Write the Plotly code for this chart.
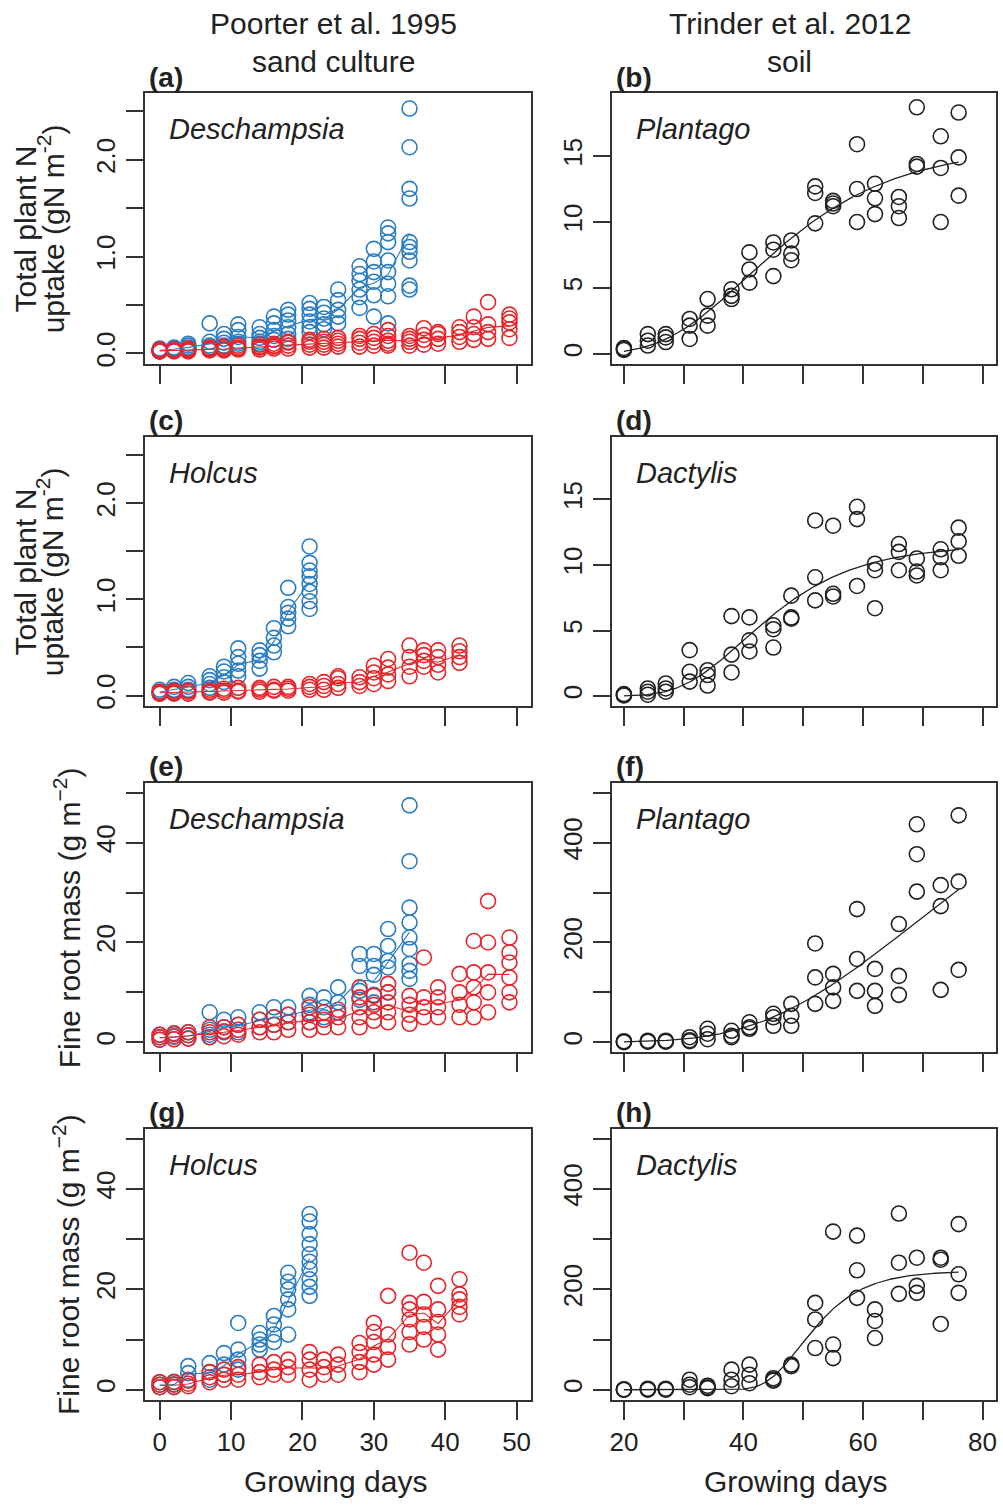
import numpy as np
import plotly.graph_objects as go

W, H = 1003, 1507
FONT = "Liberation Sans, Arial, Helvetica, sans-serif"
INK = "#222222"
FRAME = "#333333"
BLUE = "#2A7DC2"
RED = "#E5262B"

# ---- harvest days ----
SAND_DAYS = [0, 2, 4, 7, 9, 11, 14, 16, 18, 21, 23, 25, 28, 30, 32, 35, 37, 39, 42, 44, 46, 49]
SOIL_DAYS = [20, 24, 27, 31, 34, 38, 41, 45, 48, 52, 55, 59, 62, 66, 69, 73, 76]

# ---- Poorter et al. 1995, sand culture: total plant N uptake (gN m-2) ----
desch_n_high = [
    [0.02, 0.03, 0.04, 0.05, 0.03], [0.03, 0.04, 0.05, 0.06, 0.04], [0.04, 0.06, 0.08, 0.10, 0.05],
    [0.31, 0.12, 0.08, 0.06, 0.05], [0.20, 0.15, 0.11, 0.08, 0.07], [0.30, 0.24, 0.17, 0.12, 0.10],
    [0.27, 0.20, 0.16, 0.12, 0.10], [0.38, 0.31, 0.24, 0.18, 0.14], [0.45, 0.40, 0.34, 0.27, 0.20, 0.15],
    [0.52, 0.46, 0.40, 0.33, 0.27, 0.22], [0.48, 0.42, 0.36, 0.30, 0.25], [0.66, 0.55, 0.45, 0.38, 0.31],
    [0.90, 0.82, 0.75, 0.66, 0.58, 0.47], [1.08, 0.95, 0.84, 0.74, 0.60, 0.38],
    [1.30, 1.24, 1.15, 0.96, 0.84, 0.72, 0.59, 0.31],
    [2.53, 2.13, 1.70, 1.60, 1.15, 1.10, 1.05, 0.96, 0.70, 0.66],
]
desch_n_low = [
    [0.02, 0.03, 0.04, 0.02], [0.02, 0.03, 0.04, 0.03], [0.02, 0.03, 0.05, 0.04], [0.03, 0.04, 0.06, 0.05],
    [0.03, 0.05, 0.07, 0.04], [0.04, 0.05, 0.08, 0.06], [0.04, 0.06, 0.09, 0.07], [0.05, 0.07, 0.10, 0.08],
    [0.05, 0.08, 0.11, 0.12], [0.06, 0.09, 0.12, 0.14], [0.06, 0.09, 0.12, 0.15], [0.07, 0.10, 0.13, 0.16],
    [0.07, 0.11, 0.15, 0.18], [0.08, 0.12, 0.16, 0.20], [0.08, 0.13, 0.18, 0.24, 0.10], [0.08, 0.12, 0.15, 0.18],
    [0.09, 0.14, 0.19, 0.26], [0.10, 0.15, 0.20, 0.22], [0.12, 0.17, 0.22, 0.27], [0.14, 0.20, 0.27, 0.38],
    [0.15, 0.22, 0.30, 0.53], [0.16, 0.25, 0.32, 0.40, 0.36],
]
holcus_n_high = [
    [0.02, 0.04, 0.06], [0.04, 0.06, 0.09], [0.06, 0.09, 0.13], [0.08, 0.12, 0.16, 0.20],
    [0.14, 0.19, 0.25, 0.30], [0.20, 0.26, 0.33, 0.40, 0.49], [0.28, 0.36, 0.42, 0.47],
    [0.45, 0.52, 0.60, 0.70], [0.72, 0.80, 0.86, 0.92, 1.12],
    [0.90, 0.98, 1.08, 1.16, 1.24, 1.30, 1.38, 1.55],
]
holcus_n_low = [
    [0.02, 0.03, 0.04], [0.02, 0.03, 0.05], [0.02, 0.04, 0.05], [0.03, 0.04, 0.06], [0.03, 0.05, 0.07],
    [0.04, 0.05, 0.08], [0.04, 0.06, 0.08], [0.05, 0.06, 0.09], [0.05, 0.07, 0.09], [0.06, 0.09, 0.12],
    [0.06, 0.10, 0.14], [0.08, 0.12, 0.18, 0.20], [0.10, 0.14, 0.19], [0.12, 0.18, 0.24, 0.31],
    [0.15, 0.22, 0.29, 0.38], [0.20, 0.30, 0.40, 0.52], [0.30, 0.36, 0.42, 0.47], [0.24, 0.32, 0.40, 0.47],
    [0.34, 0.40, 0.46, 0.52],
]

# ---- Poorter et al. 1995, sand culture: fine root mass (g m-2) ----
desch_root_high = [
    [0.5, 1.0, 1.5], [0.6, 1.1, 1.6], [0.8, 1.4, 2.0], [6.0, 2.5, 1.5, 1.0], [4.5, 3.0, 2.0],
    [5.0, 3.5, 2.0], [6.0, 4.5, 3.0], [7.0, 5.0, 3.5], [7.0, 5.5, 4.0], [9.3, 7.5, 6.0, 4.0],
    [9.0, 7.0, 5.0], [11.0, 8.0, 6.0], [17.7, 15.3, 10.3, 8.5], [17.7, 15.3, 13.5, 9.5, 8.0],
    [22.7, 19.3, 16.3, 15.0, 10.0], [47.5, 36.3, 27.0, 24.0, 21.0, 18.7, 15.7, 14.3, 12.7],
]
desch_root_low = [
    [0.5, 1.0, 1.5], [0.6, 1.2, 1.8], [0.7, 1.4, 2.0], [1.0, 2.0, 3.0], [1.2, 2.2, 3.0],
    [1.5, 2.5, 3.5], [2.0, 3.0, 4.5], [2.0, 3.5, 5.0], [2.5, 4.0, 5.5], [2.5, 4.0, 5.5, 7.0],
    [3.0, 4.5, 6.0], [3.0, 5.0, 6.5], [3.0, 5.0, 7.0, 9.0, 11.0], [4.3, 6.0, 7.5, 9.3],
    [4.0, 6.0, 8.0, 10.0, 11.7], [3.7, 5.5, 7.5, 9.3], [5.0, 7.0, 9.0, 17.0], [5.0, 7.0, 9.0, 11.0],
    [5.0, 7.5, 10.0, 13.7], [5.0, 8.0, 11.0, 14.0, 20.3], [6.0, 10.0, 14.0, 20.0, 28.3],
    [8.0, 10.0, 13.0, 16.0, 18.0, 21.0],
]
holcus_root_high = [
    [0.5, 1.0, 1.5], [0.6, 1.1, 1.6], [2.0, 3.3, 4.7], [2.0, 3.5, 5.3], [3.0, 5.0, 7.3],
    [4.0, 6.0, 8.0, 13.3], [8.0, 9.0, 10.0, 11.3], [9.5, 11.0, 13.0, 14.7],
    [11.0, 16.0, 18.0, 20.0, 21.5, 23.3],
    [18.7, 20.5, 22.0, 24.0, 25.5, 27.0, 29.0, 31.0, 33.5, 35.0],
]
holcus_root_low = [
    [0.5, 1.0, 1.5], [0.5, 1.0, 1.5], [0.7, 1.2, 1.8], [1.5, 2.5, 3.5], [2.0, 3.0, 4.0],
    [2.0, 3.0, 4.5], [2.5, 3.5, 5.0], [3.0, 4.0, 5.5], [3.0, 4.5, 6.0], [2.0, 4.0, 6.0, 7.5],
    [3.0, 4.5, 6.0], [3.0, 5.0, 7.0], [3.5, 5.5, 7.5, 9.3], [5.0, 7.0, 9.5, 11.5, 13.3],
    [6.0, 8.5, 11.0, 18.7], [9.0, 11.5, 14.0, 16.0, 17.3, 27.3], [10.0, 12.5, 15.0, 17.5, 25.3],
    [8.0, 11.0, 13.5, 16.0, 20.7], [15.0, 16.5, 18.0, 19.0, 22.0],
]

# ---- Trinder et al. 2012, soil ----
plantago_n = [
    [0.30, 0.45, 0.35], [1.50, 1.00, 0.63], [1.50, 1.25, 0.90], [2.65, 2.14, 1.13], [4.16, 2.90, 2.14],
    [4.90, 4.40, 4.16], [7.70, 6.40, 5.40], [8.45, 7.90, 5.90], [8.60, 7.60, 7.10], [12.7, 12.2, 9.9],
    [11.6, 11.2, 11.4], [15.9, 12.5, 10.0], [12.9, 11.8, 10.6], [11.9, 11.2, 10.3], [18.7, 14.4, 14.2],
    [16.5, 14.1, 10.0], [18.3, 14.9, 12.0],
]
dactylis_n = [
    [0.08, 0.15, 0.05], [0.58, 0.33, 0.10], [0.96, 0.58, 0.33], [3.50, 1.85, 1.10], [1.97, 1.60, 0.80],
    [6.10, 3.16, 1.80], [6.00, 4.25, 3.40], [5.40, 5.10, 3.70], [7.66, 6.00, 5.90], [13.4, 9.06, 7.3],
    [13.0, 7.8, 7.6], [14.44, 13.5, 8.4], [10.1, 9.6, 6.7], [11.6, 11.0, 9.6], [10.5, 9.5, 9.2],
    [11.2, 10.6, 9.6], [12.85, 11.8, 10.7],
]
plantago_root = [
    [2, 0, 1], [3, 1, 2], [2, 3, 1], [10, 4, 2], [27, 17, 6], [23, 13, 10], [40, 27, 30],
    [57, 50, 33], [77, 53, 33], [198, 130, 77], [137, 110, 83], [267, 167, 103], [147, 103, 73],
    [237, 133, 95], [437, 377, 302], [315, 273, 105], [455, 322, 145],
]
dactylis_root = [
    [0, 1, 0], [0, 2, 1], [1, 0, 2], [20, 10, 5], [8, 3, 5], [40, 20, 7], [50, 30, 13],
    [23, 20, 18], [50, 47], [173, 140, 83], [315, 90, 63], [307, 238, 183], [160, 137, 103],
    [351, 253, 191], [263, 207, 193], [263, 259, 131], [330, 230, 193],
]

# ---- tick labels ----
SAND_XTICKS = [0, 10, 20, 30, 40, 50]
SOIL_XTICKS = [20, 30, 40, 50, 60, 70, 80]
SOIL_XLABELS = ["20", "", "40", "", "60", "", "80"]
N_TICKS = [0, 0.5, 1.0, 1.5, 2.0, 2.5]
N_LABELS = ["0.0", "", "1.0", "", "2.0", ""]
SOILN_TICKS = [0, 5, 10, 15]
ROOT_TICKS = [0, 10, 20, 30, 40, 50]
ROOT_LABELS = ["0", "", "20", "", "40", ""]
SOILROOT_TICKS = [0, 100, 200, 300, 400, 500]
SOILROOT_LABELS = ["0", "", "200", "", "400", ""]


def flatten(days, groups):
    xs, ys = [], []
    for d, g in zip(days, groups):
        xs += [d] * len(g)
        ys += list(g)
    return xs, ys


def harvest_geomeans(days, groups):
    return list(days[:len(groups)]), [float(np.exp(np.mean(np.log(g)))) for g in groups]


def gompertz_fit(days, groups):
    """Least-squares Gompertz growth curve K exp(-exp(-r (t - t0))), grid over (r, t0)."""
    x, y = flatten(days, groups)
    x = np.asarray(x, float)
    y = np.asarray(y, float)
    r = np.linspace(0.01, 0.4, 196)[:, None, None]
    t0 = np.linspace(25, 110, 341)[None, :, None]
    with np.errstate(all="ignore"):
        s = np.exp(-np.exp(np.clip(-r * (x[None, None, :] - t0), -50, 50)))
        k = (s * y).sum(axis=2) / (s * s).sum(axis=2)
        sse = ((k[..., None] * s - y) ** 2).sum(axis=2)
    sse = np.where(np.isfinite(sse), sse, np.inf)
    i, j = np.unravel_index(np.argmin(sse), sse.shape)
    rr, tt, kk = r[i, 0, 0], t0[0, j, 0], k[i, j]
    t = np.linspace(min(days), max(days), 200)
    return t, kk * np.exp(-np.exp(-rr * (t - tt)))


# panel geometry (pixels)
ROW_TOP = [93.3, 438.0, 785.0, 1131.7]
ROW_BOT = [365.0, 708.0, 1055.0, 1403.5]
COL_X = [(143.0, 530.0), (611.7, 996.7)]

fig = go.Figure()
layout = dict(
    width=W, height=H, margin=dict(l=0, r=0, t=0, b=0),
    paper_bgcolor="white", plot_bgcolor="white", showlegend=False,
    font=dict(family=FONT, color=INK),
)

panels = [
    # (row, col, yticks, ylabels, yrange, species)
    (0, 0, N_TICKS, N_LABELS, [-0.11, 2.69], "Deschampsia"),
    (0, 1, SOILN_TICKS, [str(v) for v in SOILN_TICKS], [-0.77, 19.78], "Plantago"),
    (1, 0, N_TICKS, N_LABELS, [-0.11, 2.69], "Holcus"),
    (1, 1, SOILN_TICKS, [str(v) for v in SOILN_TICKS], [-0.77, 19.78], "Dactylis"),
    (2, 0, ROOT_TICKS, ROOT_LABELS, [-2, 52], "Deschampsia"),
    (2, 1, SOILROOT_TICKS, SOILROOT_LABELS, [-20, 520], "Plantago"),
    (3, 0, ROOT_TICKS, ROOT_LABELS, [-2, 52], "Holcus"),
    (3, 1, SOILROOT_TICKS, SOILROOT_LABELS, [-20, 520], "Dactylis"),
]

axis_common = dict(
    showline=True, mirror=True, linecolor=FRAME, linewidth=1.5,
    ticks="outside", ticklen=18, tickwidth=1.5, tickcolor=FRAME,
    showgrid=False, zeroline=False, tickmode="array",
    tickfont=dict(size=26, color=INK, family=FONT),
)

annotations = []


def px_x(px):
    return px / W


def px_y(py):
    return 1 - py / H


def note(text, x, y, size, xanchor="center", angle=0):
    annotations.append(dict(text=text, x=px_x(x), y=px_y(y), xref="paper", yref="paper",
                            xanchor=xanchor, yanchor="middle", textangle=angle, showarrow=False,
                            font=dict(size=size, color=INK, family=FONT)))


for k, (row, col, ytv, ytt, yr, species) in enumerate(panels, start=1):
    x0, x1 = COL_X[col]
    top, bot = ROW_TOP[row], ROW_BOT[row]
    if col == 0:
        xtv, xtt, xr = SAND_XTICKS, [str(v) for v in SAND_XTICKS], [-2, 52]
    else:
        xtv, xtt, xr = SOIL_XTICKS, SOIL_XLABELS, [18.05, 82.2]
    if row != 3:
        xtt = [""] * len(xtv)
    layout[f"xaxis{k}"] = dict(axis_common, domain=[px_x(x0), px_x(x1)], anchor=f"y{k}",
                               range=xr, tickvals=xtv, ticktext=xtt)
    layout[f"yaxis{k}"] = dict(axis_common, domain=[px_y(bot), px_y(top)], anchor=f"x{k}",
                               range=yr, tickvals=ytv, ticktext=ytt, tickangle=-90)
    letter = "abcdefgh"[k - 1]
    note(f"<b>({letter})</b>", x0 + 2, top - 16, 28, xanchor="left")
    note(f"<i>{species}</i>", x0 + 22, top + 36, 29, xanchor="left")


def scatter(k, days, groups, color):
    xs, ys = flatten(days, groups)
    fig.add_trace(go.Scatter(x=xs, y=ys, mode="markers", xaxis=f"x{k}", yaxis=f"y{k}",
                             marker=dict(symbol="circle-open", size=15, color=color,
                                         line=dict(width=1.6, color=color)),
                             hoverinfo="skip"))


def mean_line(k, days, groups, color):
    mx, my = harvest_geomeans(days, groups)
    fig.add_trace(go.Scatter(x=mx, y=my, mode="lines", xaxis=f"x{k}", yaxis=f"y{k}",
                             line=dict(color=color, width=1.1), hoverinfo="skip"))


def fit_line(k, days, groups):
    t, f = gompertz_fit(days, groups)
    fig.add_trace(go.Scatter(x=t, y=f, mode="lines", xaxis=f"x{k}", yaxis=f"y{k}",
                             line=dict(color=INK, width=1.3), hoverinfo="skip"))


sand_sets = [
    (1, desch_n_high, desch_n_low),
    (3, holcus_n_high, holcus_n_low),
    (5, desch_root_high, desch_root_low),
    (7, holcus_root_high, holcus_root_low),
]
for k, hi, lo in sand_sets:
    scatter(k, SAND_DAYS, hi, BLUE)
    scatter(k, SAND_DAYS, lo, RED)
    mean_line(k, SAND_DAYS, hi, BLUE)
    mean_line(k, SAND_DAYS, lo, RED)

soil_sets = [(2, plantago_n), (4, dactylis_n), (6, plantago_root), (8, dactylis_root)]
for k, data in soil_sets:
    scatter(k, SOIL_DAYS, data, INK)
    fit_line(k, SOIL_DAYS, data)

# column headings
for cx, l1, l2 in [(332, "Poorter et al. 1995", "sand culture"), (790, "Trinder et al. 2012", "soil")]:
    note(l1, cx, 24, 30)
    note(l2, cx, 62, 30)

# x-axis titles
for cx in (334, 796):
    note("Growing days", cx, 1485, 30)

# y-axis titles
for row in (0, 1):
    cy = (ROW_TOP[row] + ROW_BOT[row]) / 2
    note("Total plant N", 23, cy, 30, angle=-90)
    note("uptake (gN m<sup>-2</sup>)", 48, cy, 30, angle=-90)
for row in (2, 3):
    cy = (ROW_TOP[row] + ROW_BOT[row]) / 2
    note("Fine root mass (g m<sup>\u22122</sup>)", 64, cy, 30, angle=-90)

layout["annotations"] = annotations
fig.update_layout(**layout)
fig.write_html("out.html")
